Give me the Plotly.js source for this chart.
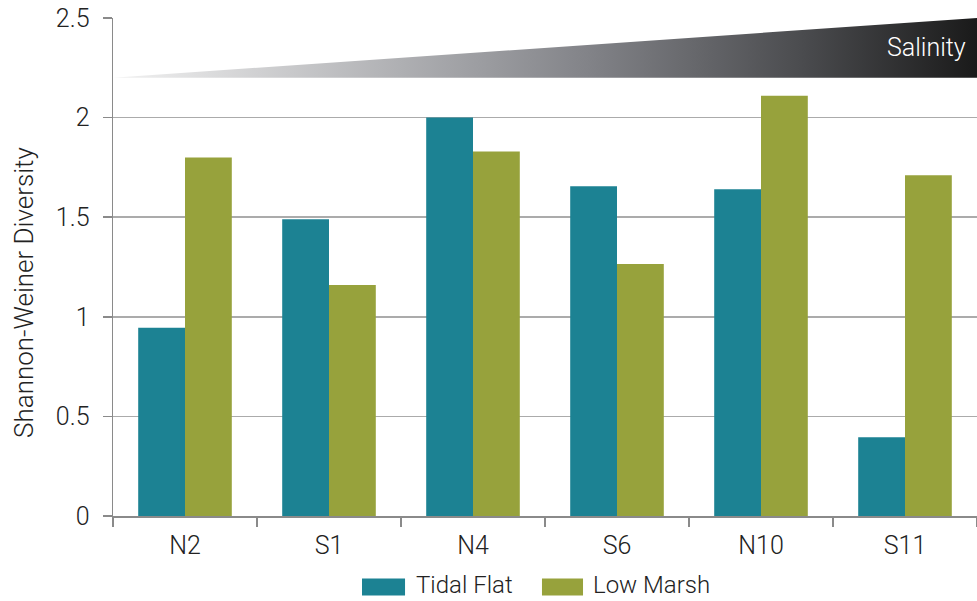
<!DOCTYPE html>
<html>
<head>
<meta charset="utf-8">
<script src="https://cdn.plot.ly/plotly-3.0.1.min.js"></script>
<style>html,body{margin:0;padding:0;background:#fff;}#chart{width:977px;height:601px;}</style>
</head>
<body>
<div id="chart"></div>
<script>
const sites = ["N2", "S1", "N4", "S6", "N10", "S11"];
const seriesNames = ["Tidal Flat", "Low Marsh"];
const tidalFlat = [0.945, 1.49, 2.0, 1.655, 1.64, 0.395];
const lowMarsh = [1.80, 1.16, 1.83, 1.265, 2.11, 1.71];
const yTicks = [0, 0.5, 1, 1.5, 2, 2.5];
const yTickText = ["0", "0.5", "1", "1.5", "2", "2.5"];
// salinity wedge (decoration) in a 0..1 overlay axis
const salinityX = [0, 1, 1, 0];
const salinityY = [2.2, 2.5, 2.2, 2.2];

const colors = ["#1c8293", "#97a23c"];
const fontFam = "Roboto, 'Liberation Sans', Arial, sans-serif";
const traces = [
  {type: "bar", name: seriesNames[0], x: sites, y: tidalFlat, marker: {color: colors[0]}},
  {type: "bar", name: seriesNames[1], x: sites, y: lowMarsh, marker: {color: colors[1]}},
  {type: "scatter", x: salinityX, y: salinityY, xaxis: "x2", mode: "lines",
   line: {width: 0}, fill: "toself", showlegend: false, hoverinfo: "skip",
   fillgradient: {type: "horizontal",
     colorscale: [[0, "#f2f2f2"], [0.42, "#9d9ea2"], [0.55, "#828388"], [0.8, "#4a4b4e"], [1, "#1a1a1a"]]}}
];

// manual legend (wide swatches like the reference)
const legendSwatchX = [[0.2882, 0.338], [0.4965, 0.5440]];
const legendTextX = [0.3495, 0.5544];
const legendY = [-0.1597, -0.1255];
const shapes = seriesNames.map((n, i) => ({type: "rect", xref: "paper", yref: "paper",
  x0: legendSwatchX[i][0], x1: legendSwatchX[i][1], y0: legendY[0], y1: legendY[1],
  fillcolor: colors[i], line: {width: 0}}));
const annotations = seriesNames.map((n, i) => ({xref: "paper", yref: "paper",
  x: legendTextX[i], y: -0.1685, xanchor: "left", yanchor: "bottom", borderpad: 0,
  text: n, showarrow: false, font: {size: 24, color: "#222"}}));
annotations.push({xref: "x2", yref: "y", x: 0.99, y: 2.35, xanchor: "right", yanchor: "middle",
  text: "Salinity", showarrow: false, font: {size: 25, color: "#fff"}});
annotations.push({xref: "paper", yref: "paper", x: -0.103, y: 0.4478, xanchor: "center", yanchor: "middle",
  textangle: -90, text: "Shannon-Weiner Diversity", showarrow: false, font: {size: 26, color: "#222"}});

const layout = {
  width: 977, height: 601,
  margin: {l: 113, r: 0, t: 18, b: 85},
  paper_bgcolor: "#fff", plot_bgcolor: "#fff",
  font: {family: fontFam, size: 24, color: "#222", weight: 300},
  barmode: "group", bargap: 0.35, bargroupgap: 0,
  showlegend: false,
  xaxis: {type: "category", tickson: "boundaries", ticks: "outside", ticklen: 9,
          tickcolor: "#8a8a8a", tickwidth: 1.5, showline: true, linecolor: "#8a8a8a", linewidth: 1.5,
          showgrid: false, tickfont: {size: 25, color: "#222"}, range: [-0.5, 5.5],
          ticklabelstandoff: 6, automargin: false},
  xaxis2: {overlaying: "x", range: [0, 1], visible: false},
  yaxis: {range: [0, 2.5], tickvals: yTicks, ticktext: yTickText, ticks: "outside", ticklen: 9,
          tickcolor: "#8a8a8a", tickwidth: 1.5, showline: true, linecolor: "#8a8a8a", linewidth: 1.5,
          gridcolor: "#ababab", gridwidth: 1.5, zeroline: false, automargin: false,
          tickfont: {size: 25, color: "#222"}, ticklabelstandoff: 8},
  shapes: shapes,
  annotations: annotations
};
Plotly.newPlot("chart", traces, layout, {displayModeBar: false, staticPlot: true});
</script>
</body>
</html>
